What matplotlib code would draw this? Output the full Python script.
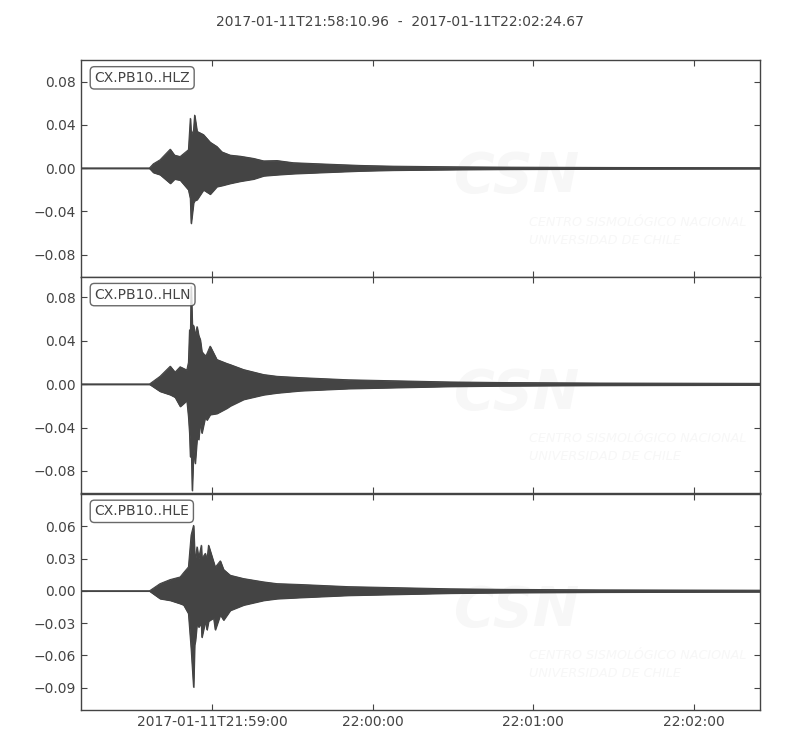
import datetime as dt
import matplotlib
matplotlib.use("Agg")
import matplotlib.pyplot as plt
from matplotlib.ticker import FuncFormatter

# trace start / end
t_start = dt.datetime(2017, 1, 11, 21, 58, 10, 960000)
t_end = dt.datetime(2017, 1, 11, 22, 2, 24, 670000)
title = "2017-01-11T21:58:10.96  -  2017-01-11T22:02:24.67"

channels = ["CX.PB10..HLZ", "CX.PB10..HLN", "CX.PB10..HLE"]

# envelope of each trace: seconds after start, upper and lower amplitude
t_z = [0, 25.6, 27.1, 29.6, 33.4, 35.0, 37.1, 40.2, 40.9, 41.2, 42.1, 42.5, 43.4, 45.8, 48.3,
       50.8, 52.7, 55.8, 59.6, 64.5, 68.3, 73.3, 79.4, 92, 104.4, 116.8, 129, 141.8, 160, 200, 253.7]
up_z = [0, 0, 0.004, 0.0077, 0.0175, 0.012, 0.0107, 0.017, 0.046, 0.030, 0.035, 0.049, 0.034, 0.031, 0.024,
        0.020, 0.015, 0.012, 0.011, 0.009, 0.0067, 0.007, 0.005, 0.0037, 0.0025, 0.0018, 0.0015, 0.0012, 0.0009, 0.0006, 0.0004]
lo_z = [0, 0, -0.004, -0.006, -0.014, -0.010, -0.011, -0.020, -0.028, -0.051, -0.032, -0.030, -0.029, -0.020, -0.024,
        -0.017, -0.016, -0.014, -0.012, -0.010, -0.007, -0.006, -0.005, -0.0037, -0.0025, -0.0018, -0.0015, -0.0012, -0.0009, -0.0006, -0.0004]

t_n = [0, 25.6, 29.6, 33.4, 35.2, 37.1, 39.6, 40.2, 40.6, 40.9, 41.2, 41.6, 42.1, 42.7, 43.4, 44.0, 44.6,
       45.2, 46.5, 47.1, 48.3, 50.8, 54.6, 55.8, 60.8, 68.3, 73.3, 82, 100, 119, 138, 157, 194, 253.7]
up_n = [0, 0, 0.0072, 0.0165, 0.011, 0.016, 0.013, 0.02, 0.05, 0.04, 0.09, 0.055, 0.054, 0.045, 0.053, 0.045, 0.041,
        0.03, 0.026, 0.028, 0.035, 0.0227, 0.019, 0.018, 0.0134, 0.0088, 0.0072, 0.006, 0.004, 0.003, 0.002, 0.0015, 0.001, 0.0007]
lo_n = [0, 0, -0.0066, -0.0097, -0.012, -0.0205, -0.015, -0.030, -0.045, -0.067, -0.05, -0.098, -0.06, -0.073, -0.05, -0.051, -0.035,
        -0.045, -0.03, -0.033, -0.028, -0.027, -0.022, -0.02, -0.014, -0.0097, -0.008, -0.006, -0.004, -0.003, -0.002, -0.0015, -0.001, -0.0007]

t_e = [0, 25.6, 29.6, 33.4, 37.1, 38.4, 40.2, 41.2, 42.1, 42.5, 42.8, 43.4, 44.0, 45.0, 45.2, 46.5, 47.1,
       47.7, 49.6, 50.2, 52.1, 53.3, 55.8, 60.8, 68.3, 73.3, 82, 100, 119, 138, 157, 194, 253.7]
up_e = [0, 0, 0.0068, 0.0106, 0.013, 0.017, 0.0223, 0.052, 0.061, 0.035, 0.03, 0.041, 0.03, 0.0425, 0.03, 0.035, 0.028,
        0.0425, 0.027, 0.022, 0.028, 0.02, 0.0146, 0.0115, 0.0084, 0.0068, 0.006, 0.004, 0.003, 0.002, 0.0015, 0.001, 0.0007]
lo_e = [0, 0, -0.0071, -0.0087, -0.0117, -0.013, -0.021, -0.0537, -0.0894, -0.05, -0.046, -0.03, -0.0335, -0.03, -0.043, -0.028, -0.036,
        -0.028, -0.025, -0.036, -0.022, -0.027, -0.018, -0.013, -0.0087, -0.0071, -0.006, -0.004, -0.003, -0.002, -0.0015, -0.001, -0.0007]

times = [t_z, t_n, t_e]
uppers = [up_z, up_n, up_e]
lowers = [lo_z, lo_n, lo_e]

ylims = [(-0.1004, 0.1000), (-0.1008, 0.099), (-0.111, 0.0907)]
yticks = [[-0.08, -0.04, 0.0, 0.04, 0.08],
          [-0.08, -0.04, 0.0, 0.04, 0.08],
          [-0.09, -0.06, -0.03, 0.0, 0.03, 0.06]]

xtick_times = [dt.datetime(2017, 1, 11, 21, 59, 0), dt.datetime(2017, 1, 11, 22, 0, 0),
               dt.datetime(2017, 1, 11, 22, 1, 0), dt.datetime(2017, 1, 11, 22, 2, 0)]
xtick_labels = ["2017-01-11T21:59:00", "22:00:00", "22:01:00", "22:02:00"]

grey = "#444444"
faint = "#f7f7f7"

fig, axes = plt.subplots(3, 1, sharex=True, figsize=(8, 7.5), dpi=100)
fig.subplots_adjust(left=0.101, right=0.95, top=0.92, bottom=0.053, hspace=0)


def minus_fmt(v, pos):
    return ("%.2f" % v).replace("-", "\u2212")


for i, ax in enumerate(axes):
    x = [t_start + dt.timedelta(seconds=s) for s in times[i]]
    ax.fill_between(x, lowers[i], uppers[i], color=grey, lw=0.8, zorder=2)
    ax.plot(x, uppers[i], color=grey, lw=0.8, zorder=2)
    ax.plot(x, lowers[i], color=grey, lw=0.8, zorder=2)

    # faint watermark
    ax.text(0.55, 0.46, "CSN", transform=ax.transAxes, fontsize=40, fontweight="bold",
            style="italic", color=faint, va="center", ha="left", zorder=1)
    ax.text(0.66, 0.21, "CENTRO SISMOL\u00d3GICO NACIONAL\nUNIVERSIDAD DE CHILE",
            transform=ax.transAxes, fontsize=9.2, style="italic", color=faint,
            va="center", ha="left", linespacing=1.5, zorder=1, clip_on=True)

    ax.text(0.02, 0.95, channels[i], transform=ax.transAxes, va="top", ha="left",
            fontsize=10, color=grey, zorder=5,
            bbox=dict(boxstyle="round", fc="w", ec=grey, alpha=0.8))

    ax.set_ylim(ylims[i])
    ax.set_yticks(yticks[i])
    ax.yaxis.set_major_formatter(FuncFormatter(minus_fmt))
    ax.tick_params(direction="in", top=True, right=True, length=4, width=0.8,
                   colors=grey, labelsize=10, labelcolor=grey)
    for sp in ax.spines.values():
        sp.set_color(grey)
        sp.set_linewidth(1.0)

axes[-1].set_xlim(t_start, t_end)
axes[-1].set_xticks(xtick_times)
axes[-1].set_xticklabels(xtick_labels)

fig.suptitle(title, y=0.98, fontsize=10, color=grey)

plt.savefig("out.png", dpi=100)
